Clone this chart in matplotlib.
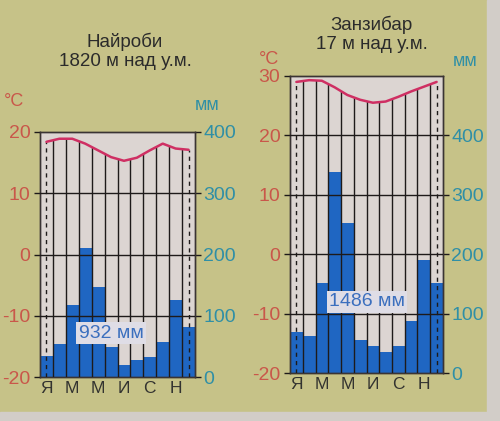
import numpy as np
import matplotlib
matplotlib.use("Agg")
import matplotlib.pyplot as plt
from matplotlib.patches import Rectangle

plt.rcParams['font.family'] = ['Liberation Sans', 'DejaVu Sans']

months = ["Я", "", "М", "", "М", "", "И", "", "С", "", "Н", ""]

nairobi_title = "Найроби\n1820 м над у.м."
nairobi_temp = [18.4, 18.9, 18.9, 18.1, 17.0, 15.9, 15.3, 15.8, 17.0, 18.1, 17.3, 17.1]
nairobi_prec = [35, 54, 117, 211, 147, 49, 19, 28, 33, 57, 125, 82]
nairobi_total = "932 мм"
nairobi_tticks = [-20, -10, 0, 10, 20]
nairobi_pticks = [0, 100, 200, 300, 400]
nairobi_pmax = 400

zanz_title = "Занзибар\n17 м над у.м."
zanz_temp = [29.0, 29.3, 29.2, 28.1, 26.8, 26.0, 25.5, 25.7, 26.5, 27.4, 28.2, 29.0]
zanz_prec = [69, 63, 152, 338, 252, 56, 46, 36, 46, 88, 191, 152]
zanz_total = "1486 мм"
zanz_tticks = [-20, -10, 0, 10, 20, 30]
zanz_pticks = [0, 100, 200, 300, 400]
zanz_pmax = 500

BG = "#c6c288"
EDGE = "#d2cdc8"
PLOTBG = "#dcd5d2"
BAR = "#1f66c2"
LINE = "#cf2f63"
RED = "#c9574a"
TEAL = "#2f8fa6"
DARK = "#2b2b2b"
GRID = "#1e1a1a"

W, H = 500, 421
fig = plt.figure(figsize=(W / 100, H / 100), dpi=100)
fig.patch.set_facecolor(BG)
# light page edge strips (right and bottom)
fig.patches.append(Rectangle((487 / W, 0), 1, 1, transform=fig.transFigure, color=EDGE, zorder=0))
fig.patches.append(Rectangle((0, 0), 1, 1 - 412 / H, transform=fig.transFigure, color=EDGE, zorder=0))


def px(x0, y0, x1, y1):
    return [x0 / W, 1 - y1 / H, (x1 - x0) / W, (y1 - y0) / H]


def panel(rect, temp, prec, tticks, pticks, pmax, total, total_xy):
    x = np.arange(12)
    axp = fig.add_axes(rect)
    axp.set_facecolor(PLOTBG)
    axt = axp.twinx()

    axp.bar(x, prec, width=1.0, color=BAR, edgecolor=BAR, linewidth=0, zorder=2)
    axp.set_ylim(0, pmax)
    axp.set_xlim(-0.5, 11.5)
    axp.set_xticks(x)
    axp.set_xticklabels(months, fontsize=12.5, color="#333330")
    axp.tick_params(axis='x', length=0, pad=3)

    axt.set_ylim(tticks[0], tticks[-1])
    axt.set_xlim(-0.5, 11.5)

    # swap sides: precipitation ticks on the right, temperature on the left
    axp.yaxis.tick_right()
    axp.yaxis.set_label_position('right')
    axt.yaxis.tick_left()
    axt.yaxis.set_label_position('left')

    axp.set_yticks(pticks)
    axp.set_yticklabels([str(v) for v in pticks], color=TEAL, fontsize=14)
    axp.tick_params(axis='y', which='both', length=4, width=1.0, color=GRID, pad=2,
                    right=True, left=False, labelright=True, labelleft=False)
    axt.set_yticks(tticks)
    axt.set_yticklabels([str(v) for v in tticks], color=RED, fontsize=14)
    axt.tick_params(axis='y', which='both', length=4, width=1.0, color=GRID, pad=3,
                    left=True, right=False, labelleft=True, labelright=False)

    # horizontal lines
    for t in tticks[1:-1]:
        axt.axhline(t, color=GRID, lw=1.0, zorder=3)
    # vertical month-boundary lines from the curve down
    bounds = np.arange(0.5, 11.0, 1.0)
    tb = np.interp(bounds, x, temp)
    axt.vlines(bounds, tticks[0], tb, color=GRID, lw=1.0, zorder=3)
    axt.vlines([0, 11], tticks[0], [temp[0], temp[-1]], color=GRID, lw=1.0,
               linestyles=(0, (3, 3)), zorder=3)
    axt.plot(x, temp, color=LINE, lw=1.8, zorder=4, solid_capstyle='round')
    for a in (axp, axt):
        for s in a.spines.values():
            s.set_color("#3a3434")
            s.set_linewidth(1.0)
    fig.text(total_xy[0] / W, 1 - total_xy[1] / H, total, fontsize=14, color="#3b6fbe",
             ha='center', va='center',
             bbox=dict(boxstyle='square,pad=0.12', fc="#dfdde6", ec='none'))
    return axp, axt


panel(px(40, 132, 195, 377), nairobi_temp, nairobi_prec, nairobi_tticks, nairobi_pticks,
      nairobi_pmax, nairobi_total, (111, 333))
panel(px(290, 76, 443, 373), zanz_temp, zanz_prec, zanz_tticks, zanz_pticks,
      zanz_pmax, zanz_total, (367, 302))

fig.text(125 / W, 1 - 51 / H, nairobi_title, fontsize=13.5, color=DARK, ha='center', va='center',
         linespacing=1.15)
fig.text(372 / W, 1 - 34 / H, zanz_title, fontsize=13.5, color=DARK, ha='center', va='center',
         linespacing=1.15)

fig.text(14 / W, 1 - 101 / H, "°C", fontsize=13, color=RED, ha='center', va='center')
fig.text(207 / W, 1 - 106 / H, "мм", fontsize=13, color=TEAL, ha='center', va='center')
fig.text(269 / W, 1 - 60 / H, "°C", fontsize=13, color=RED, ha='center', va='center')
fig.text(465 / W, 1 - 62 / H, "мм", fontsize=13, color=TEAL, ha='center', va='center')

fig.savefig("out.png", dpi=100, facecolor=fig.get_facecolor())
